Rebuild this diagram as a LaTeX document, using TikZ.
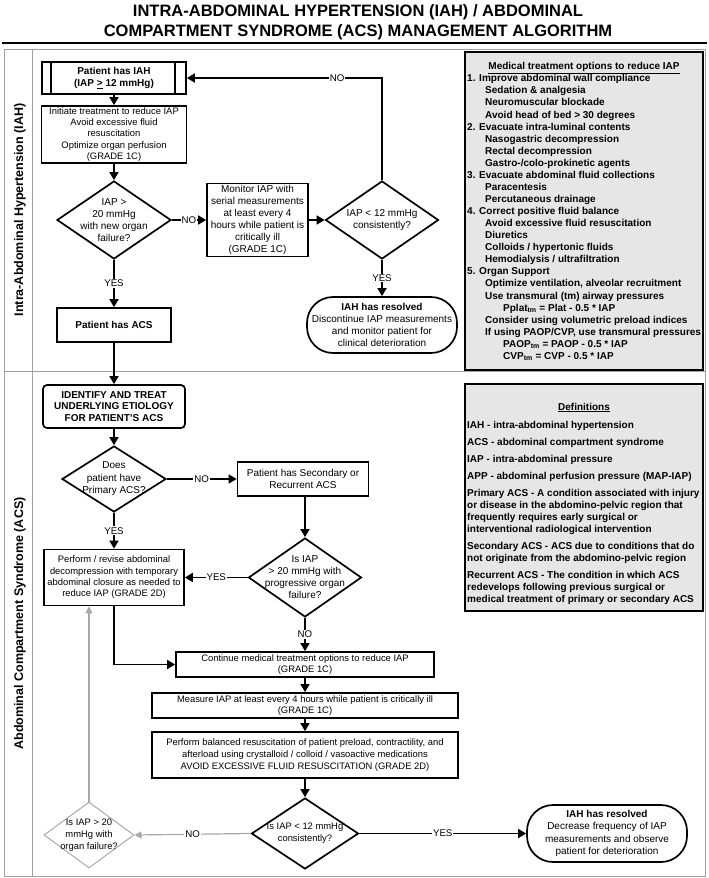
\documentclass[tikz,border=0pt]{standalone}
\usepackage{fontspec}
\setmainfont{Liberation Sans}
\usetikzlibrary{shapes.geometric,arrows.meta}
\definecolor{framegray}{HTML}{A0A0A0}
\definecolor{boxfill}{HTML}{E6E6E6}
\definecolor{lightline}{HTML}{A8A8A8}
\begin{document}
\begin{tikzpicture}[x=1pt,y=-1pt,
  fa/.style={font=\fontsize{10}{12}\selectfont},
  fab/.style={font=\fontsize{10}{11.8}\bfseries},
  fb/.style={font=\fontsize{9.4}{11.7}\selectfont},
  fc/.style={font=\fontsize{9.4}{11.3}\selectfont},
  box/.style={draw, line width=1.7pt, inner sep=0pt, align=center},
  dia/.style={draw, shape=diamond, line width=1.7pt, inner sep=0pt},
  gdia/.style={draw=lightline, shape=diamond, line width=1pt, inner sep=0pt},
  dtext/.style={align=center, inner sep=0pt},
  arr/.style={line width=1.7pt, -{Triangle[length=8pt,width=9pt]}},
  garr/.style={line width=1.2pt, draw=lightline, -{Triangle[length=7pt,width=7pt]}},
  lbl/.style={fill=white, inner sep=1pt, font=\fontsize{9.7}{11}\selectfont, text=black},
  note/.style={draw, line width=2pt, fill=boxfill, outer sep=0pt, inner sep=0pt},
  lane/.style={rotate=90, font=\fontsize{12.5}{14}\bfseries},
  ttl/.style={anchor=base, font=\fontsize{16.5}{18}\bfseries},
]
\useasboundingbox (0,0) rectangle (709,878);

% title
\node[ttl] (t1) at (358,16.5) {INTRA-ABDOMINAL HYPERTENSION (IAH) / ABDOMINAL};
\node[ttl] (t2) at (358,36.5) {COMPARTMENT SYNDROME (ACS) MANAGEMENT ALGORITHM};
\draw[line width=2.5pt] (2,43) -- (707,43);

% frame and lanes
\draw[framegray, line width=1pt] (4,49) rectangle (705,876);
\draw[framegray, line width=1pt] (32,49) -- (32,876);
\draw[framegray, line width=1pt] (4,371) -- (705,371);
\node[lane] (lane1) at (20,210) {Intra-Abdominal Hypertension (IAH)};
\node[lane] (lane2) at (20,623.5) {Abdominal Compartment Syndrome (ACS)};

% medical treatment box
\node[note, minimum width=238pt, minimum height=318pt, anchor=north west] (med) at (465,52) {};
\node[anchor=base, font=\fontsize{10}{12}\bfseries] (medt) at (584,69.3) {\underline{Medical treatment options to reduce IAP}};
\node[anchor=north west, align=left, inner sep=0pt, font=\fontsize{10}{12.07}\bfseries] (medl) at (467,73.6) {\rule{0pt}{8pt}1. Improve abdominal wall compliance\\
\hspace*{18pt}Sedation \& analgesia\\
\hspace*{18pt}Neuromuscular blockade\\
\hspace*{18pt}Avoid head of bed > 30 degrees\\
2. Evacuate intra-luminal contents\\
\hspace*{18pt}Nasogastric decompression\\
\hspace*{18pt}Rectal decompression\\
\hspace*{18pt}Gastro-/colo-prokinetic agents\\
3. Evacuate abdominal fluid collections\\
\hspace*{18pt}Paracentesis\\
\hspace*{18pt}Percutaneous drainage\\
4. Correct positive fluid balance\\
\hspace*{18pt}Avoid excessive fluid resuscitation\\
\hspace*{18pt}Diuretics\\
\hspace*{18pt}Colloids / hypertonic fluids\\
\hspace*{18pt}Hemodialysis / ultrafiltration\\
5. Organ Support\\
\hspace*{18pt}Optimize ventilation, alveolar recruitment\\
\hspace*{18pt}Use transmural (tm) airway pressures\\
\hspace*{36pt}Pplat\textsubscript{tm} = Plat - 0.5 * IAP\\
\hspace*{18pt}Consider using volumetric preload indices\\
\hspace*{18pt}If using PAOP/CVP, use transmural pressures\\
\hspace*{36pt}PAOP\textsubscript{tm} = PAOP - 0.5 * IAP\\
\hspace*{36pt}CVP\textsubscript{tm} = CVP - 0.5 * IAP};

% definitions box
\node[note, minimum width=238pt, minimum height=227pt, anchor=north west] (defs) at (465,384) {};
\node[anchor=base, font=\fontsize{10}{12}\bfseries] (deft) at (584,410) {\underline{Definitions}};
\node[anchor=north west, align=left, inner sep=0pt, font=\fontsize{10}{12}\bfseries] (defl) at (467,420.3) {\rule{0pt}{8pt}IAH - intra-abdominal hypertension\\[5pt]
ACS - abdominal compartment syndrome\\[5pt]
IAP - intra-abdominal pressure\\[5pt]
APP - abdominal perfusion pressure (MAP-IAP)\\[5pt]
Primary ACS - A condition associated with injury\\
or disease in the abdomino-pelvic region that\\
frequently requires early surgical or\\
interventional radiological intervention\\[5pt]
Secondary ACS - ACS due to conditions that do\\
not originate from the abdomino-pelvic region\\[5pt]
Recurrent ACS - The condition in which ACS\\
redevelops following previous surgical or\\
medical treatment of primary or secondary ACS};

% IAH lane
\node[box, fab, minimum width=144pt, minimum height=32pt] (iah) at (114,78) {Patient has IAH\\(IAP \underline{>} 12 mmHg)};
\draw[line width=1.7pt] ([xshift=10pt]iah.north west) -- ([xshift=10pt]iah.south west);
\draw[line width=1.7pt] ([xshift=-12pt]iah.north east) -- ([xshift=-12pt]iah.south east);
\node[box, fc, minimum width=145pt, minimum height=57pt] (init) at (114,134.5) {Initiate treatment to reduce IAP\\Avoid excessive fluid\\resuscitation\\Optimize organ perfusion\\(GRADE 1C)};
\node[dia, minimum width=114pt, minimum height=78pt] (d1) at (114,220) {};
\node[dtext, fa] (d1t) at (d1.center) {IAP >\\20 mmHg\\with new organ\\failure?};
\node[box, fa, minimum width=101pt, minimum height=73pt] (mon) at (257.5,220) {Monitor IAP with\\serial measurements\\at least every 4\\hours while patient is\\critically ill\\(GRADE 1C)};
\node[dia, minimum width=113pt, minimum height=78pt] (d2) at (382,220) {};
\node[dtext, fa] (d2t) at (d2.center) {IAP < 12 mmHg\\consistently?};
\node[box, fab, minimum width=114pt, minimum height=34pt] (acs) at (114,325) {Patient has ACS};
\node[box, fa, rounded corners=26pt, minimum width=150pt, minimum height=56pt] (res1) at (382,325) {\textbf{IAH has resolved}\\Discontinue IAP measurements\\and monitor patient for\\clinical deterioration};

% ACS lane
\node[box, fab, rounded corners=4pt, minimum width=142pt, minimum height=43pt] (ident) at (114,406.5) {IDENTIFY AND TREAT\\UNDERLYING ETIOLOGY\\FOR PATIENT’S ACS};
\node[dia, minimum width=104pt, minimum height=66pt] (d3) at (114,479) {};
\node[dtext, font=\fontsize{10}{12.5}\selectfont] (d3t) at (d3.center) {Does\\patient have\\Primary ACS?};
\node[box, fa, minimum width=131pt, minimum height=34pt] (sec) at (303,479) {Patient has Secondary or\\Recurrent ACS};
\node[dia, minimum width=113pt, minimum height=79pt] (d4) at (305,577.5) {};
\node[dtext, fa] (d4t) at (d4.center) {Is IAP\\> 20 mmHg with\\progressive organ\\failure?};
\node[box, fc, minimum width=140pt, minimum height=56pt] (perf) at (114,577.5) {Perform / revise abdominal\\decompression with temporary\\abdominal closure as needed to\\reduce IAP (GRADE 2D)};
\node[box, fb, minimum width=258pt, minimum height=25pt] (cont) at (305,664.5) {Continue medical treatment options to reduce IAP\\(GRADE 1C)};
\node[box, fb, minimum width=306pt, minimum height=25pt] (meas) at (305,705.5) {Measure IAP at least every 4 hours while patient is critically ill\\(GRADE 1C)};
\node[box, fb, font=\fontsize{9.4}{12.2}\selectfont, minimum width=306pt, minimum height=46pt] (bal) at (305,755) {Perform balanced resuscitation of patient preload, contractility, and\\afterload using crystalloid / colloid / vasoactive medications\\AVOID EXCESSIVE FLUID RESUSCITATION (GRADE 2D)};
\node[dia, minimum width=107pt, minimum height=71pt] (d5) at (305,833.5) {};
\node[dtext, fb] (d5t) at (d5.center) {Is IAP < 12 mmHg\\consistently?};
\node[box, font=\fontsize{10}{12.3}\selectfont, rounded corners=26pt, minimum width=160pt, minimum height=57pt] (res2) at (607,833.5) {\textbf{IAH has resolved}\\Decrease frequency of IAP\\measurements and observe\\patient for deterioration};
\node[gdia, minimum width=90pt, minimum height=66pt] (d6) at (89,835) {};
\node[dtext, font=\fontsize{9.4}{12.2}\selectfont] (d6t) at (d6.center) {Is IAP > 20\\mmHg with\\organ failure?};

% connectors
\draw[arr] (iah.south) -- (init.north);
\draw[arr] (init.south) -- (d1.north);
\draw[arr] (d1.east) -- node[lbl]{NO} (mon.west);
\draw[arr] (mon.east) -- (d2.west);
\draw[arr] (d2.north) |- node[lbl, pos=0.615]{NO} (iah.east);
\draw[arr] (d1.south) -- node[lbl]{YES} (acs.north);
\draw[arr] (d2.south) -- node[lbl]{YES} (res1.north);
\draw[arr] (acs.south) -- (ident.north);
\draw[arr] (ident.south) -- (d3.north);
\draw[arr] (d3.east) -- node[lbl]{NO} (sec.west);
\draw[arr] (sec.south -| d4.north) -- (d4.north);
\draw[arr] (d4.west) -- node[lbl]{YES} (perf.east);
\draw[arr] (d3.south) -- node[lbl]{YES} (perf.north);
\draw[arr] (d4.south) -- node[lbl]{NO} (cont.north);
\draw[arr] (perf.south) |- (cont.west);
\draw[arr] (cont.south) -- (meas.north);
\draw[arr] (meas.south) -- (bal.north);
\draw[arr] (bal.south) -- (d5.north);
\draw[arr] (d5.east) -- node[lbl]{YES} (res2.west);
\draw[garr] (d5.west) -- node[lbl]{NO} (d6.east);
\draw[garr] (d6.north) -- (d6.north |- perf.south);
\end{tikzpicture}
\end{document}
